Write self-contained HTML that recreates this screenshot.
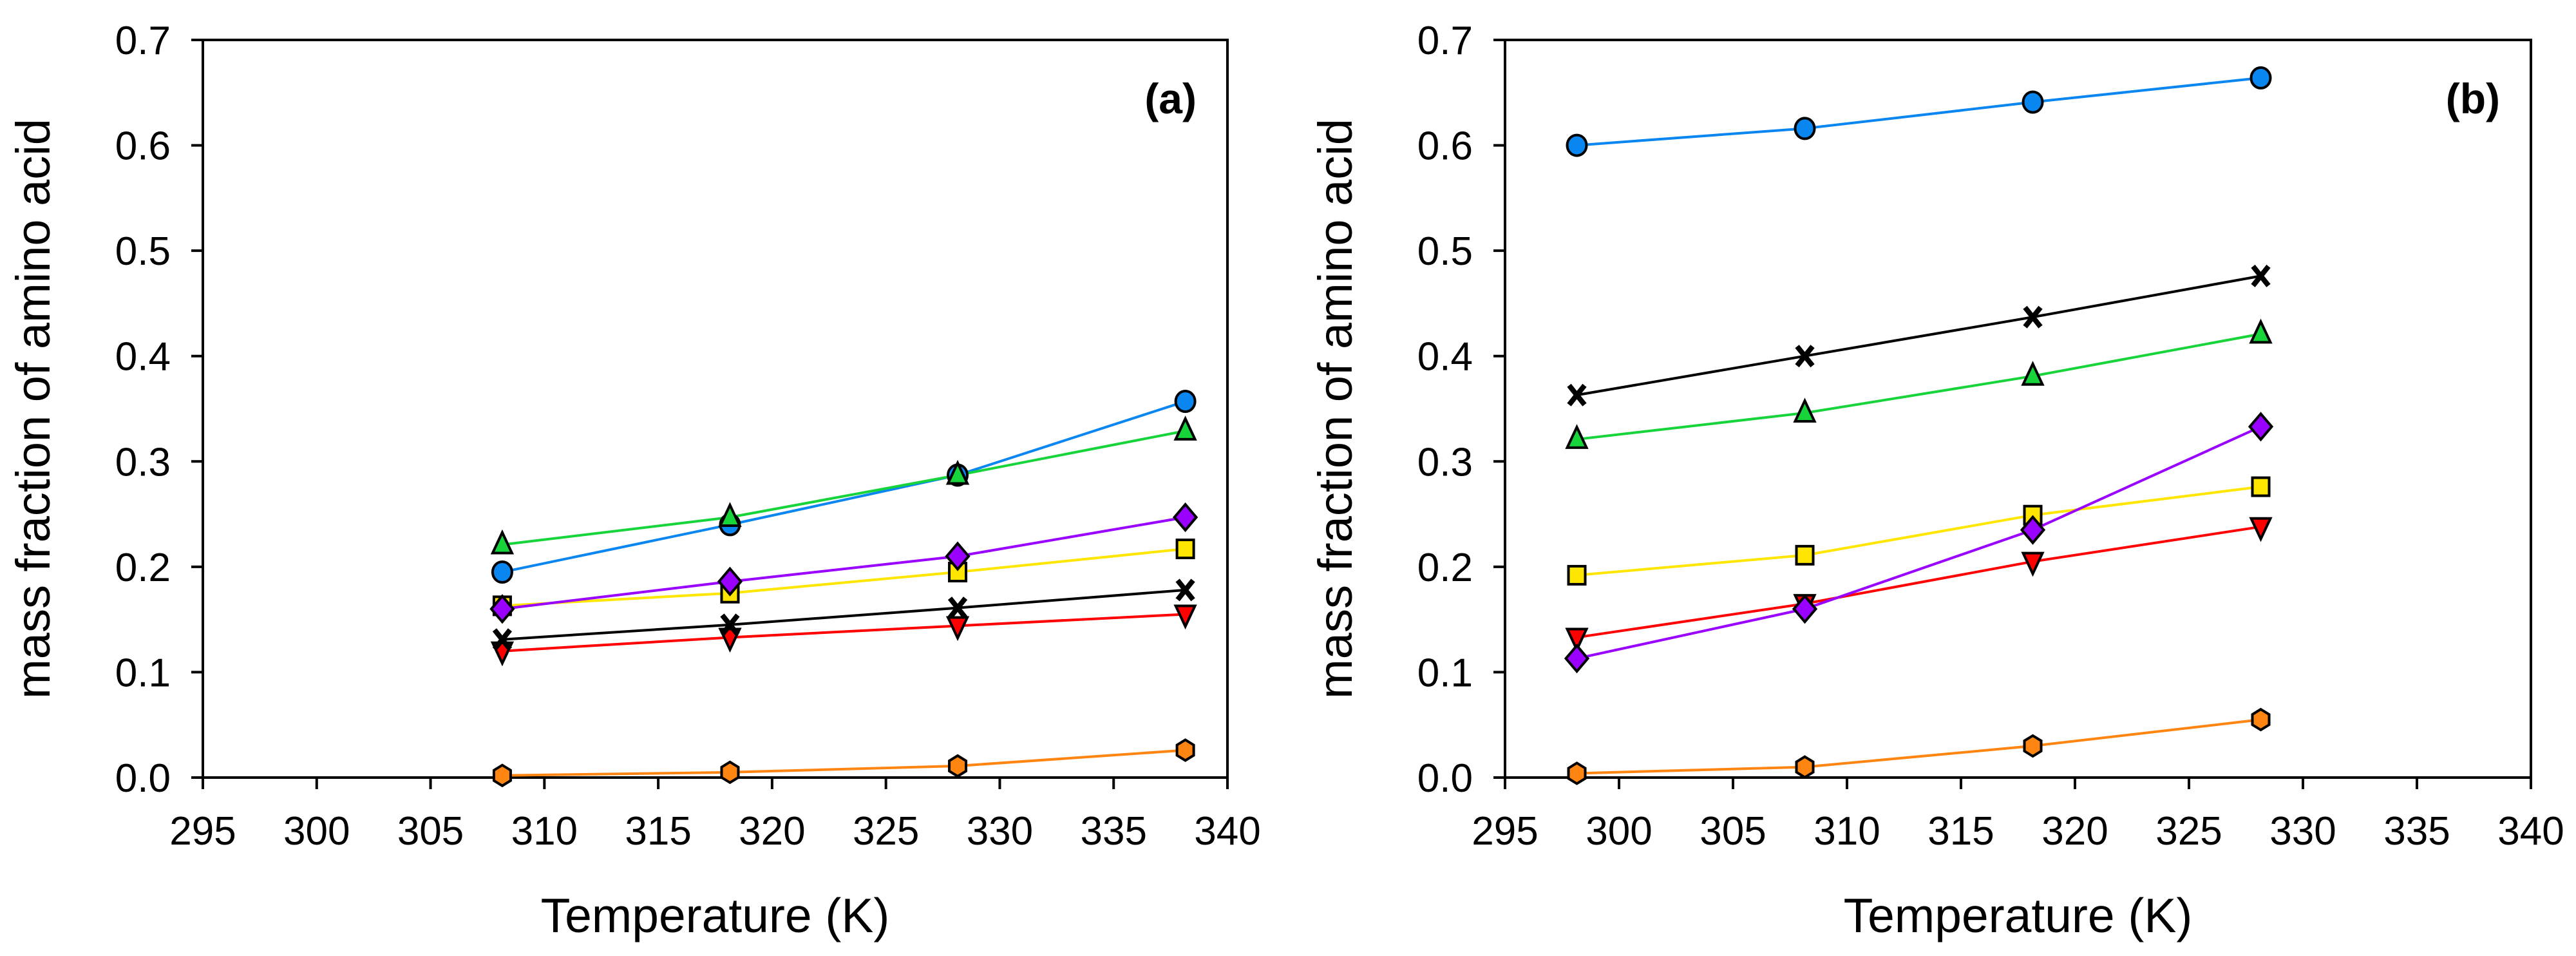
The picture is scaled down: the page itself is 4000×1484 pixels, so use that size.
<!DOCTYPE html>
<html><head><meta charset="utf-8"><style>
html,body{margin:0;padding:0;background:#fff;}
svg{display:block;font-family:"Liberation Sans",Arial,sans-serif;}
</style></head><body>
<svg id="chart" width="4000" height="1484" viewBox="0 0 4000 1484" xmlns="http://www.w3.org/2000/svg"></svg>
<script>
const xTicks = [295,300,305,310,315,320,325,330,335,340];
const yTicks = [0.0,0.1,0.2,0.3,0.4,0.5,0.6,0.7];
const tempsA = [308.15,318.15,328.15,338.15];
const tempsB = [298.15,308.15,318.15,328.15];
const blueA = [0.195,0.240,0.287,0.357];
const greenA = [0.221,0.247,0.287,0.329];
const purpleA = [0.160,0.186,0.210,0.247];
const yellowA = [0.163,0.175,0.195,0.217];
const blackA = [0.131,0.145,0.161,0.178];
const redA = [0.120,0.133,0.144,0.155];
const orangeA = [0.002,0.005,0.011,0.026];
const blueB = [0.600,0.616,0.641,0.664];
const blackB = [0.363,0.400,0.437,0.476];
const greenB = [0.321,0.346,0.381,0.421];
const purpleB = [0.113,0.160,0.235,0.333];
const yellowB = [0.192,0.211,0.249,0.276];
const redB = [0.133,0.165,0.205,0.238];
const orangeB = [0.004,0.010,0.030,0.055];

const NS="http://www.w3.org/2000/svg";
const svg=document.getElementById('chart');
function mk(tag,attrs,parent){const e=document.createElementNS(NS,tag);for(const k in attrs)e.setAttribute(k,attrs[k]);(parent||svg).appendChild(e);return e;}

const panels=[
 {id:'a',left:315,right:1906,top:62,bottom:1207,temps:tempsA,label:'(a)',labelX:1858,titleX:50,
  series:[['orange',orangeA,'#ff8513','hex'],['red',redA,'#ff0000','tridown'],['black',blackA,'#000000','x'],['yellow',yellowA,'#ffe600','square'],['purple',purpleA,'#9900ff','diamond'],['blue',blueA,'#0a86f0','circle'],['green',greenA,'#17d43a','triup']]},
 {id:'b',left:2337,right:3930,top:62,bottom:1207,temps:tempsB,label:'(b)',labelX:3882,titleX:2072,
  series:[['orange',orangeB,'#ff8513','hex'],['red',redB,'#ff0000','tridown'],['yellow',yellowB,'#ffe600','square'],['purple',purpleB,'#9900ff','diamond'],['green',greenB,'#17d43a','triup'],['black',blackB,'#000000','x'],['blue',blueB,'#0a86f0','circle']]}
];

function marker(g,shape,cx,cy,color){
  const st={fill:color,stroke:'#000','stroke-width':4};
  let e;
  if(shape==='circle'){e=mk('ellipse',Object.assign({cx:cx,cy:cy,rx:15,ry:16},st),g);}
  else if(shape==='square'){e=mk('rect',Object.assign({x:cx-13,y:cy-14,width:26,height:28},st),g);}
  else if(shape==='triup'){e=mk('polygon',Object.assign({points:`${cx},${cy-19} ${cx+15},${cy+13} ${cx-15},${cy+13}`},st),g);}
  else if(shape==='tridown'){e=mk('polygon',Object.assign({points:`${cx-15},${cy-13} ${cx+15},${cy-13} ${cx},${cy+19}`},st),g);}
  else if(shape==='diamond'){e=mk('polygon',Object.assign({points:`${cx},${cy-20} ${cx+17},${cy} ${cx},${cy+20} ${cx-17},${cy}`},st),g);}
  else if(shape==='hex'){e=mk('polygon',Object.assign({points:`${cx},${cy-16} ${cx+13},${cy-8} ${cx+13},${cy+8} ${cx},${cy+16} ${cx-13},${cy+8} ${cx-13},${cy-8}`},st),g);}
  else if(shape==='x'){
    e=mk('path',{d:`M${cx-12},${cy-15} L${cx+12},${cy+15} M${cx+12},${cy-15} L${cx-12},${cy+15}`,stroke:'#000','stroke-width':8,fill:'none'},g);
  }
  
  
}

panels.forEach(p=>{
  const g=mk('g',{});
  
  
  const xs=v=>p.left+(v-295)/45*(p.right-p.left);
  const ys=v=>p.bottom-v/0.7*(p.bottom-p.top);
  // frame
  const fr=mk('rect',{x:p.left,y:p.top,width:p.right-p.left,height:p.bottom-p.top,fill:'none',stroke:'#000','stroke-width':4},g);
  
  
  xTicks.forEach(t=>{
    const x=xs(t);
    const tk=mk('line',{x1:x,y1:p.bottom,x2:x,y2:p.bottom+18,stroke:'#000','stroke-width':4},g);
    
    
    const tl=mk('text',{x:x,y:1311,'text-anchor':'middle','font-size':62},g);
    tl.textContent=String(t);
    
    
  });
  yTicks.forEach(t=>{
    const y=ys(t);
    const tk=mk('line',{x1:p.left-18,y1:y,x2:p.left,y2:y,stroke:'#000','stroke-width':4},g);
    
    
    const tl=mk('text',{x:p.left-50,y:y+22,'text-anchor':'end','font-size':62},g);
    tl.textContent=t.toFixed(1);
    
    
  });
  const xt=mk('text',{x:(p.left+p.right)/2,y:1447,'text-anchor':'middle','font-size':75},g);
  xt.textContent='Temperature (K)';
  
  
  const cy=(p.top+p.bottom)/2;
  const yt=mk('text',{x:p.titleX+27,y:cy,'text-anchor':'middle','font-size':74,transform:`rotate(-90 ${p.titleX+27} ${cy})`},g);
  yt.textContent='mass fraction of amino acid';
  
  
  const pl=mk('text',{x:p.labelX,y:176,'text-anchor':'end','font-size':66,'font-weight':'bold'},g);
  pl.textContent=p.label;
  
  
  p.series.forEach(s=>{
    const sg=mk('g',{},g);
    
    
    const pts=s[1].map((v,i)=>xs(p.temps[i])+','+ys(v)).join(' ');
    const ln=mk('polyline',{points:pts,fill:'none',stroke:s[2],'stroke-width':4},sg);
    
    
  });
  p.series.forEach(s=>{
    const sg=mk('g',{},g);
    
    
    s[1].forEach((v,i)=>marker(sg,s[3],xs(p.temps[i]),ys(v),s[2]));
  });
});
</script>
</body></html>
